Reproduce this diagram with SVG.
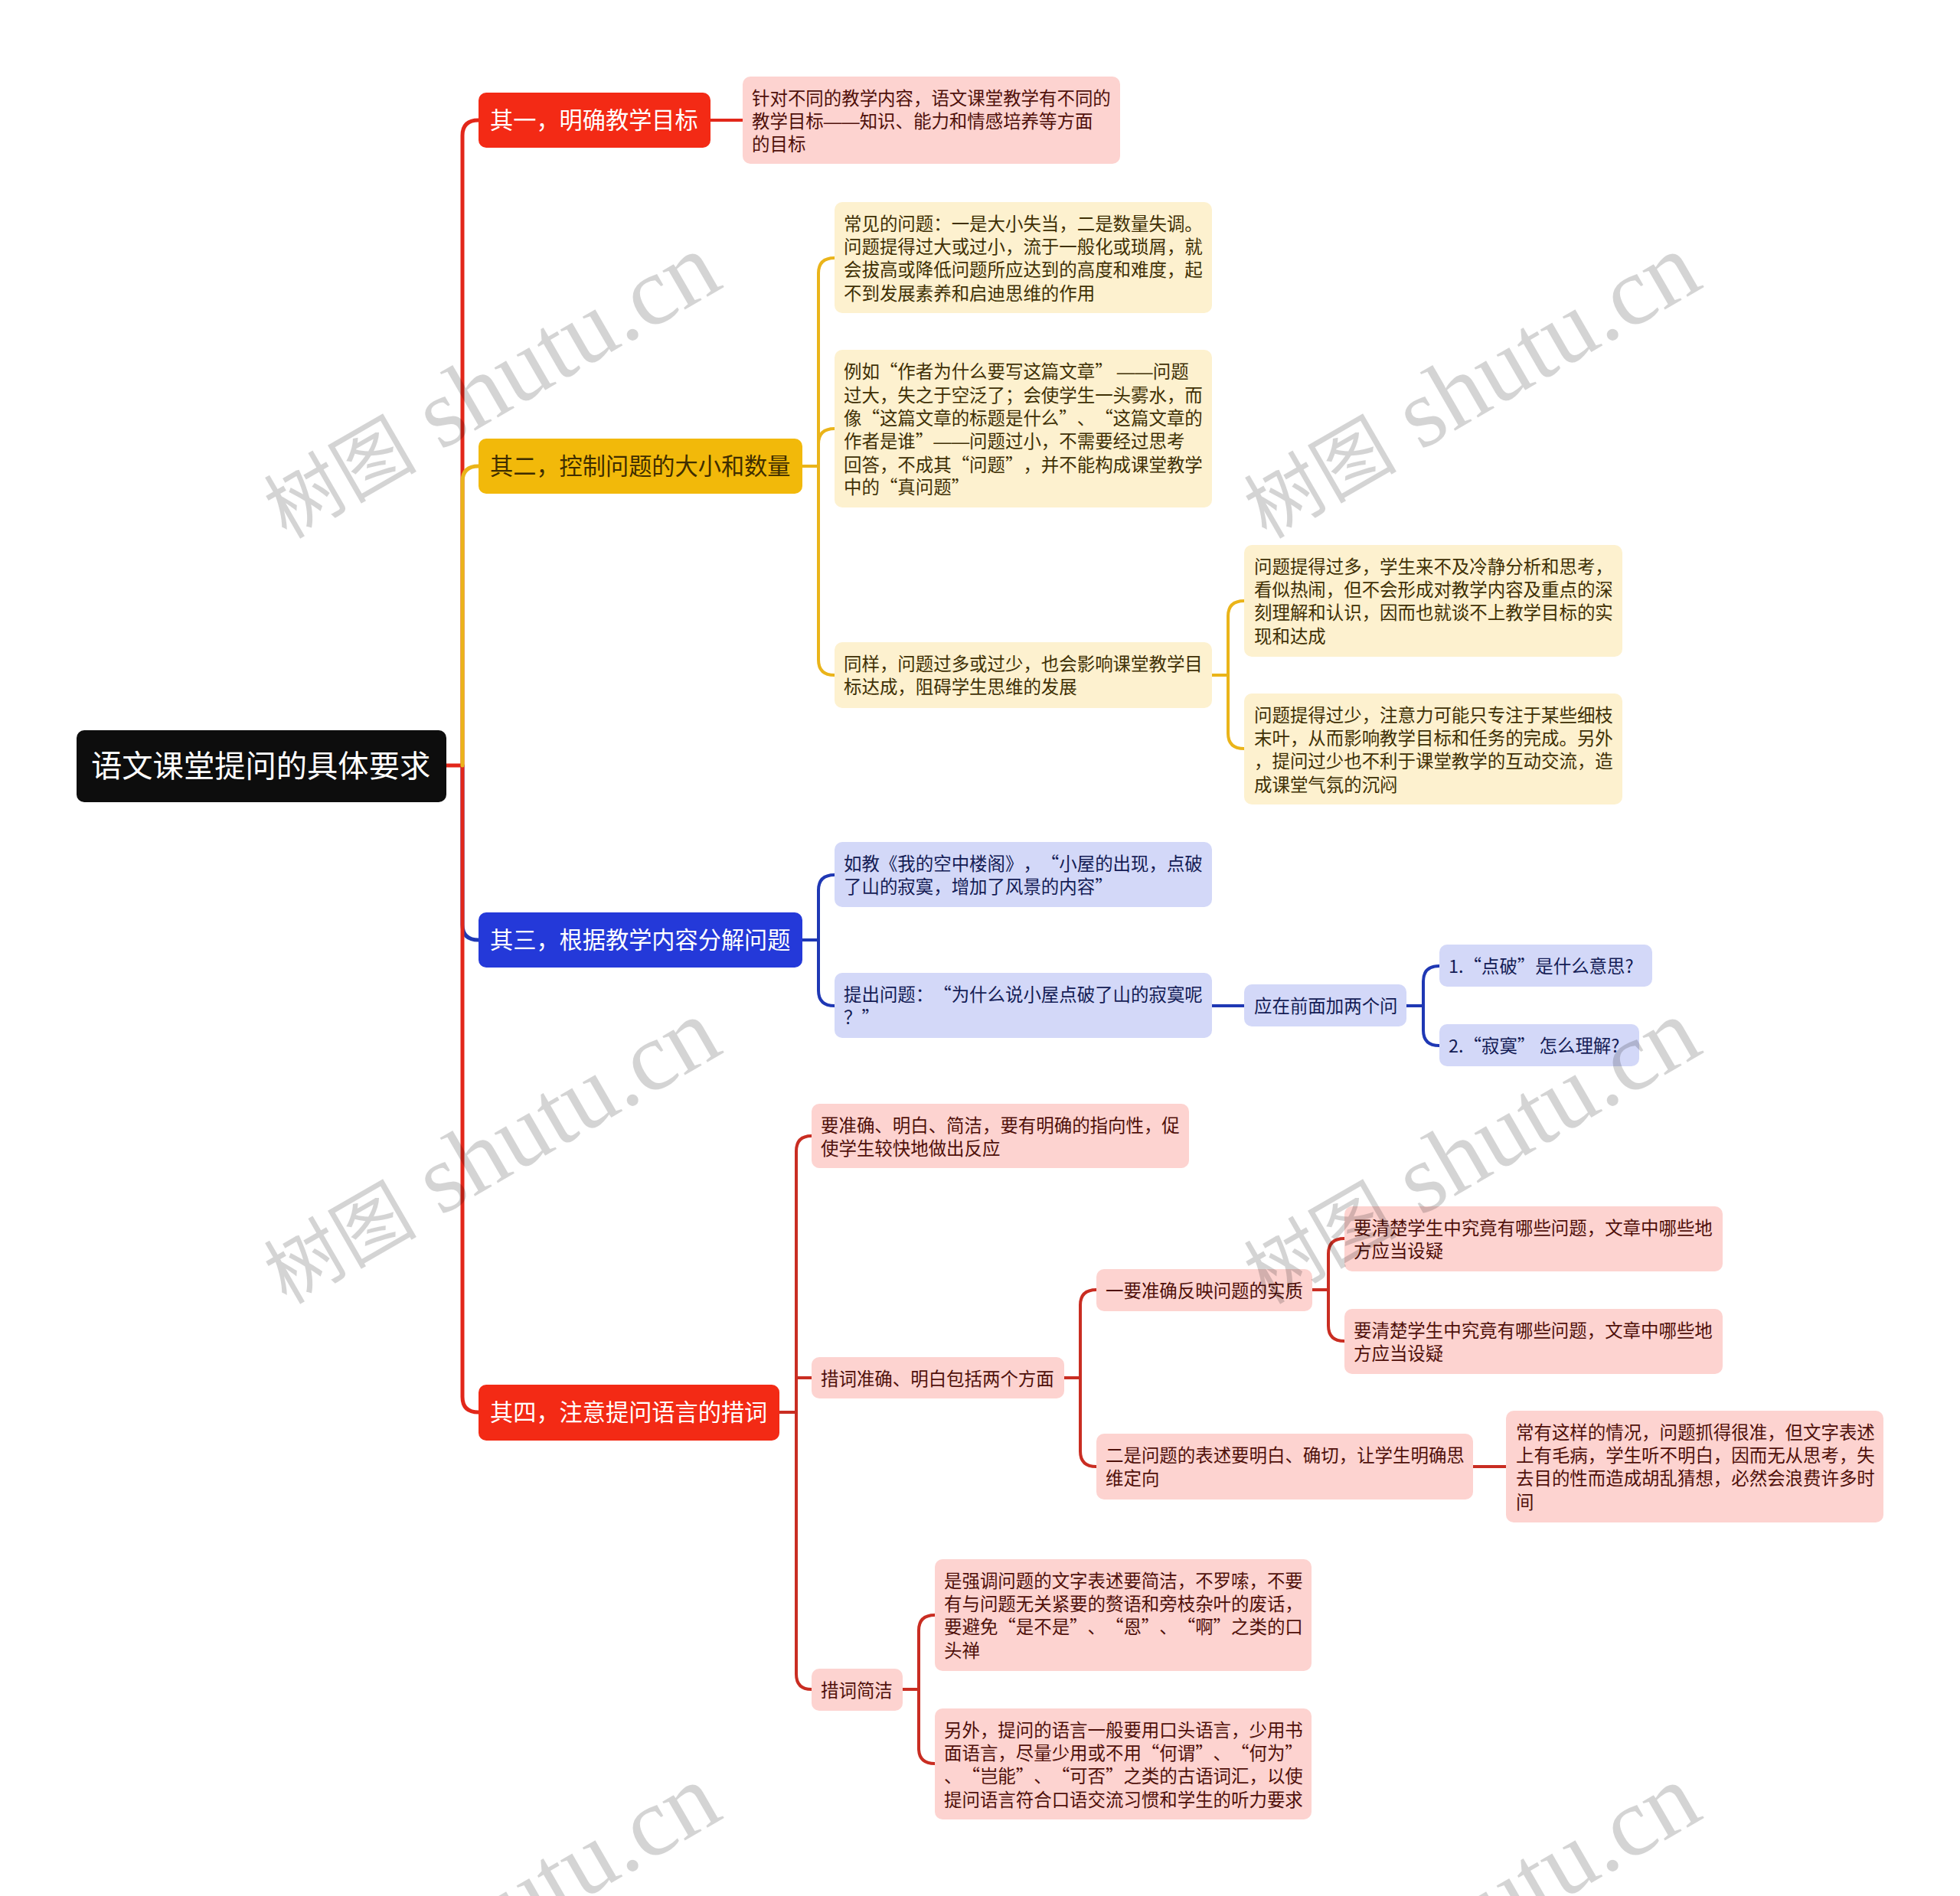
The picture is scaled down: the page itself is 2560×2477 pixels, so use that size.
<svg xmlns="http://www.w3.org/2000/svg" width="2560" height="2477" viewBox="0 0 2560 2477">
<style>
text{font-family:"Noto Sans CJK SC","Noto Sans",sans-serif;font-feature-settings:"chws" 0,"halt" 0,"palt" 0;text-spacing-trim:space-all;white-space:pre}
.l{fill:none;stroke-width:4;stroke-linecap:round;stroke-linejoin:round}
.m{stroke-width:5}
.r{stroke:#e2271a}.r2{stroke:#c92d22}.y{stroke:#eab41a}.b{stroke:#1f38b4}
.t{font-size:23.45px;transform:translateY(-.6px)}
.h{font-size:30.2px}
.d{font-family:"Liberation Sans",sans-serif}
.pr{fill:#fdd3d0}.py{fill:#fdf1cf}.pb{fill:#d3d8f8}
.tr{fill:#4f100a}.ty{fill:#3f3005}.tb{fill:#141c55}
.wm{font-family:"Liberation Serif",serif;font-size:128px;fill:#000;fill-opacity:.17}
.wc{font-family:"Noto Sans CJK SC",serif;font-size:100px}
</style>
<rect width="2560" height="2477" fill="#fff"/>
<g id="connectors">
<path class="l m b" d="M604 1000V1208Q604 1228 625 1228"/>
<path class="l m r" d="M583 1000H604V177Q604 157 625 157"/>
<path class="l m r" d="M604 1000V1825Q604 1845 625 1845"/>
<path class="l m y" d="M604 1000V629Q604 609 625 609"/>
<path class="l r" d="M928 157H970"/>
<path class="l y" d="M1047 609H1069M1090 337Q1069 337 1069 357V862Q1069 882 1090 882M1069 580Q1069 560 1090 560"/>
<path class="l y" d="M1583 882H1604M1625 785Q1604 785 1604 805V958Q1604 978 1625 978"/>
<path class="l b" d="M1047 1228H1069M1090 1143Q1069 1143 1069 1163V1294Q1069 1314 1090 1314"/>
<path class="l b" d="M1583 1314H1625"/>
<path class="l b" d="M1837 1314H1859M1880 1262Q1859 1262 1859 1282V1346Q1859 1366 1880 1366"/>
<path class="l r2" d="M1018 1845H1040M1060 1484Q1040 1484 1040 1504V2187Q1040 2207 1060 2207M1040 1800H1060"/>
<path class="l r2" d="M1390 1800H1411M1432 1685Q1411 1685 1411 1705V1896Q1411 1916 1432 1916"/>
<path class="l r2" d="M1714 1685H1735M1756 1618Q1735 1618 1735 1638V1732Q1735 1752 1756 1752"/>
<path class="l r2" d="M1924 1916H1967"/>
<path class="l r2" d="M1178 2207H1200M1221 2110Q1200 2110 1200 2130V2284Q1200 2304 1221 2304"/>
</g>
<g id="root"><rect x="100" y="954" width="483" height="94" rx="10" fill="#0d0d0d"/><text x="119" y="1015" font-size="40.3" fill="#fff">语文课堂提问的具体要求</text></g>
<g id="n1"><rect x="625" y="121" width="303" height="72" rx="10" fill="#f32a15"/><text class="h" x="640" y="168" fill="#fff">其一，明确教学目标</text></g>
<g id="n2"><rect x="625" y="573" width="423" height="72" rx="10" fill="#f2b90a"/><text class="h" x="640" y="620" fill="#3f2d00">其二，控制问题的大小和数量</text></g>
<g id="n3"><rect x="625" y="1192" width="423" height="72" rx="10" fill="#2439d9"/><text class="h" x="640" y="1239" fill="#fff">其三，根据教学内容分解问题</text></g>
<g id="n4"><rect x="625" y="1809" width="393" height="73" rx="10" fill="#f32a15"/><text class="h" x="640" y="1856" fill="#fff">其四，注意提问语言的措词</text></g>

<g id="n1a"><rect class="pr" x="970" y="100" width="493" height="114" rx="10"/><text class="t tr" x="982" y="137.5">针对不同的教学内容，语文课堂教学有不同的</text><text class="t tr" x="982" y="167.8">教学目标<tspan class="d">——</tspan>知识、能力和情感培养等方面</text><text class="t tr" x="982" y="198.1">的目标</text></g>

<g id="n2a"><rect class="py" x="1090" y="264" width="493" height="145" rx="10"/><text class="t ty" x="1102" y="301.5">常见的问题：一是大小失当，二是数量失调。</text><text class="t ty" x="1102" y="331.8">问题提得过大或过小，流于一般化或琐屑，就</text><text class="t ty" x="1102" y="362.1">会拔高或降低问题所应达到的高度和难度，起</text><text class="t ty" x="1102" y="392.4">不到发展素养和启迪思维的作用</text></g>
<g id="n2b"><rect class="py" x="1090" y="457" width="493" height="206" rx="10"/><text class="t ty" x="1102" y="495">例如“作者为什么要写这篇文章” <tspan class="d">——</tspan>问题</text><text class="t ty" x="1102" y="525.3">过大，失之于空泛了；会使学生一头雾水，而</text><text class="t ty" x="1102" y="555.6">像“这篇文章的标题是什么”、“这篇文章的</text><text class="t ty" x="1102" y="585.9">作者是谁”<tspan class="d">——</tspan>问题过小，不需要经过思考</text><text class="t ty" x="1102" y="616.2">回答，不成其“问题”，并不能构成课堂教学</text><text class="t ty" x="1102" y="646">中的“真问题”</text></g>
<g id="n2c"><rect class="py" x="1090" y="839" width="493" height="86" rx="10"/><text class="t ty" x="1102" y="876.5">同样，问题过多或过少，也会影响课堂教学目</text><text class="t ty" x="1102" y="906.8">标达成，阻碍学生思维的发展</text></g>
<g id="n2c1"><rect class="py" x="1625" y="712" width="494" height="146" rx="10"/><text class="t ty" x="1638" y="749.5">问题提得过多，学生来不及冷静分析和思考，</text><text class="t ty" x="1638" y="779.8">看似热闹，但不会形成对教学内容及重点的深</text><text class="t ty" x="1638" y="810.1">刻理解和认识，因而也就谈不上教学目标的实</text><text class="t ty" x="1638" y="840.4">现和达成</text></g>
<g id="n2c2"><rect class="py" x="1625" y="906" width="494" height="145" rx="10"/><text class="t ty" x="1638" y="943.5">问题提得过少，注意力可能只专注于某些细枝</text><text class="t ty" x="1638" y="973.8">末叶，从而影响教学目标和任务的完成。另外</text><text class="t ty" x="1638" y="1004.1">，提问过少也不利于课堂教学的互动交流，造</text><text class="t ty" x="1638" y="1034.4">成课堂气氛的沉闷</text></g>

<g id="n3a"><rect class="pb" x="1090" y="1100" width="493" height="85" rx="10"/><text class="t tb" x="1102" y="1137.5">如教《我的空中楼阁》，“小屋的出现，点破</text><text class="t tb" x="1102" y="1167.8">了山的寂寞，增加了风景的内容”</text></g>
<g id="n3b"><rect class="pb" x="1090" y="1271" width="493" height="85" rx="10"/><text class="t tb" x="1102" y="1308.5">提出问题：“为什么说小屋点破了山的寂寞呢</text><text class="t tb" x="1102" y="1338.8">？”</text></g>
<g id="n3c"><rect class="pb" x="1625" y="1286" width="212" height="55" rx="10"/><text class="t tb" x="1638" y="1323.5">应在前面加两个问</text></g>
<g id="n3c1"><rect class="pb" x="1880" y="1234" width="278" height="55" rx="10"/><text class="t tb" x="1892" y="1271.5">1.“点破”是什么意思?</text></g>
<g id="n3c2"><rect class="pb" x="1880" y="1338" width="261" height="55" rx="10"/><text class="t tb" x="1892" y="1375.5">2.“寂寞” 怎么理解?</text></g>

<g id="n4a"><rect class="pr" x="1060" y="1442" width="493" height="84" rx="10"/><text class="t tr" x="1072" y="1479.5">要准确、明白、简洁，要有明确的指向性，促</text><text class="t tr" x="1072" y="1509.8">使学生较快地做出反应</text></g>
<g id="n4b"><rect class="pr" x="1060" y="1773" width="330" height="54" rx="10"/><text class="t tr" x="1072" y="1810.5">措词准确、明白包括两个方面</text></g>
<g id="n4b1"><rect class="pr" x="1432" y="1658" width="282" height="55" rx="10"/><text class="t tr" x="1444" y="1695.5">一要准确反映问题的实质</text></g>
<g id="n4b1a"><rect class="pr" x="1756" y="1576" width="494" height="85" rx="10"/><text class="t tr" x="1768" y="1613.5">要清楚学生中究竟有哪些问题，文章中哪些地</text><text class="t tr" x="1768" y="1643.8">方应当设疑</text></g>
<g id="n4b1b"><rect class="pr" x="1756" y="1710" width="494" height="85" rx="10"/><text class="t tr" x="1768" y="1747.5">要清楚学生中究竟有哪些问题，文章中哪些地</text><text class="t tr" x="1768" y="1777.8">方应当设疑</text></g>
<g id="n4b2"><rect class="pr" x="1432" y="1873" width="492" height="86" rx="10"/><text class="t tr" x="1444" y="1910.5">二是问题的表述要明白、确切，让学生明确思</text><text class="t tr" x="1444" y="1940.8">维定向</text></g>
<g id="n4b2a"><rect class="pr" x="1967" y="1843" width="493" height="146" rx="10"/><text class="t tr" x="1980" y="1880.5">常有这样的情况，问题抓得很准，但文字表述</text><text class="t tr" x="1980" y="1910.8">上有毛病，学生听不明白，因而无从思考，失</text><text class="t tr" x="1980" y="1941.1">去目的性而造成胡乱猜想，必然会浪费许多时</text><text class="t tr" x="1980" y="1971.4">间</text></g>
<g id="n4c"><rect class="pr" x="1060" y="2180" width="119" height="55" rx="10"/><text class="t tr" x="1072" y="2217.5">措词简洁</text></g>
<g id="n4c1"><rect class="pr" x="1221" y="2037" width="492" height="146" rx="10"/><text class="t tr" x="1233" y="2074.5">是强调问题的文字表述要简洁，不罗嗦，不要</text><text class="t tr" x="1233" y="2104.8">有与问题无关紧要的赘语和旁枝杂叶的废话，</text><text class="t tr" x="1233" y="2135.1">要避免“是不是”、“恩”、“啊”之类的口</text><text class="t tr" x="1233" y="2165.4">头禅</text></g>
<g id="n4c2"><rect class="pr" x="1221" y="2232" width="492" height="145" rx="10"/><text class="t tr" x="1233" y="2269.5">另外，提问的语言一般要用口头语言，少用书</text><text class="t tr" x="1233" y="2299.8">面语言，尽量少用或不用“何谓”、“何为”</text><text class="t tr" x="1233" y="2330.1">、“岂能”、“可否”之类的古语词汇，以使</text><text class="t tr" x="1233" y="2360.4">提问语言符合口语交流习惯和学生的听力要求</text></g>

<g id="watermark">
<text class="wm" transform="translate(374 705) rotate(-30)"><tspan class="wc">树图</tspan> shutu.cn</text>
<text class="wm" transform="translate(1654 705) rotate(-30)"><tspan class="wc">树图</tspan> shutu.cn</text>
<text class="wm" transform="translate(374 1705) rotate(-30)"><tspan class="wc">树图</tspan> shutu.cn</text>
<text class="wm" transform="translate(1654 1705) rotate(-30)"><tspan class="wc">树图</tspan> shutu.cn</text>
<text class="wm" transform="translate(374 2705) rotate(-30)"><tspan class="wc">树图</tspan> shutu.cn</text>
<text class="wm" transform="translate(1654 2705) rotate(-30)"><tspan class="wc">树图</tspan> shutu.cn</text>
</g>
</svg>
